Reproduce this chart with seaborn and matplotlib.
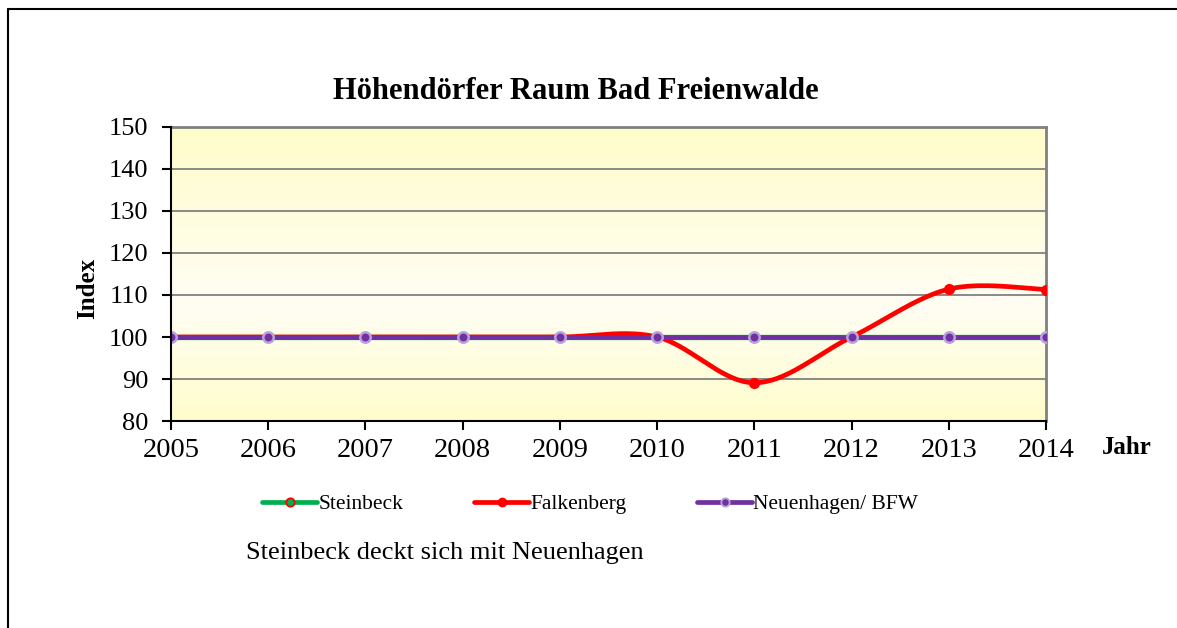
import numpy as np
import pandas as pd
import seaborn as sns
import matplotlib.pyplot as plt
from matplotlib.lines import Line2D
from matplotlib.colors import LinearSegmentedColormap

# Daten (Index, 2005 = 100)
jahre = [2005, 2006, 2007, 2008, 2009, 2010, 2011, 2012, 2013, 2014]
steinbeck = [100, 100, 100, 100, 100, 100, 100, 100, 100, 100]
falkenberg = [100, 100, 100, 100, 100, 100, 89.1, 100, 111.4, 111.3]
neuenhagen = [100, 100, 100, 100, 100, 100, 100, 100, 100, 100]
y_ticks = [80, 90, 100, 110, 120, 130, 140, 150]

sns.set_theme(style='white')
plt.rcParams['font.family'] = ['Liberation Serif', 'DejaVu Serif']
plt.rcParams['text.color'] = 'black'
plt.rcParams['xtick.color'] = 'black'
plt.rcParams['ytick.color'] = 'black'


def glatt(x, y, n=40):
    # Excel-artige geglaettete Linie (Catmull-Rom / Bezier)
    x = np.asarray(x, float)
    y = np.asarray(y, float)
    px = np.concatenate([[x[0]], x, [x[-1]]])
    py = np.concatenate([[y[0]], y, [y[-1]]])
    xs, ys = [], []
    t = np.linspace(0, 1, n)
    for i in range(1, len(px) - 2):
        p0 = np.array([px[i], py[i]])
        p3 = np.array([px[i + 1], py[i + 1]])
        p1 = p0 + (np.array([px[i + 1], py[i + 1]]) - np.array([px[i - 1], py[i - 1]])) / 6
        p2 = p3 - (np.array([px[i + 2], py[i + 2]]) - np.array([px[i], py[i]])) / 6
        b = ((1 - t) ** 3)[:, None] * p0 + (3 * (1 - t) ** 2 * t)[:, None] * p1 \
            + (3 * (1 - t) * t ** 2)[:, None] * p2 + (t ** 3)[:, None] * p3
        xs.extend(b[:, 0])
        ys.extend(b[:, 1])
    return np.array(xs), np.array(ys)


fig = plt.figure(figsize=(11.77, 6.28), dpi=100)
ax = fig.add_axes([0.1453, 0.3296, 0.7434, 0.4682])

# Hintergrund mit Farbverlauf
cmap = LinearSegmentedColormap.from_list('bg', ['#fffccb', '#fffef3', '#fffdcc'])
grad = np.concatenate([np.linspace(0, 0.5, 60), np.linspace(0.5, 1, 40)]).reshape(-1, 1)
ax.imshow(grad, cmap=cmap, aspect='auto', extent=[0, 1, 0, 1],
          transform=ax.transAxes, zorder=0, origin='upper')

gruen = '#00b050'
rot = '#ff0000'
lila = '#7030a0'

sns.lineplot(x=jahre, y=steinbeck, ax=ax, color=gruen, linewidth=3.8, zorder=3)
fx, fy = glatt(jahre, falkenberg)
sns.lineplot(x=fx, y=fy, ax=ax, color=rot, linewidth=3.4, sort=False, estimator=None, zorder=4)
ax.plot(jahre, falkenberg, 'o', color=rot, markersize=7, zorder=5)
sns.lineplot(x=jahre, y=neuenhagen, ax=ax, color=lila, linewidth=3.3, zorder=6)
ax.plot(jahre, neuenhagen, 'o', markerfacecolor=lila, markeredgecolor='#b9a3dc',
        markeredgewidth=1.8, markersize=7.5, zorder=7)

ax.set_xlim(2005, 2014)
ax.set_ylim(80, 150)
ax.set_xticks(jahre)
ax.set_yticks(y_ticks)
ax.tick_params(axis='both', colors='black', length=6.5, width=1.5, direction='out')
ax.tick_params(axis='y', pad=10, left=True, labelsize=19)
ax.tick_params(axis='x', pad=6, bottom=True, labelsize=20.5)
ax.yaxis.grid(True, color='#808080', linewidth=1.3)
ax.xaxis.grid(False)
ax.set_axisbelow(False)
for gl in ax.get_ygridlines():
    gl.set_zorder(1)
for s in ['left', 'bottom']:
    ax.spines[s].set_color('black')
    ax.spines[s].set_linewidth(1.5)
    ax.spines[s].set_zorder(8)
for s in ['top', 'right']:
    ax.spines[s].set_color('#808080')
    ax.spines[s].set_linewidth(2)
ax.set_xlabel('')
ax.set_ylabel('')

fig.text(0.489, 0.855, 'Höhendörfer Raum Bad Freienwalde', ha='center', va='center',
         fontsize=22, fontweight='bold')
fig.text(0.0748, 0.541, 'Index', rotation=90, ha='center', va='center',
         fontsize=18, fontweight='bold')
fig.text(0.9575, 0.288, 'Jahr', ha='center', va='center', fontsize=18, fontweight='bold')
fig.text(0.209, 0.119, 'Steinbeck deckt sich mit Neuenhagen', ha='left', va='center',
         fontsize=19)

handles = [
    Line2D([], [], color=gruen, linewidth=3.4, marker='o', markersize=6,
           markerfacecolor=gruen, markeredgecolor=rot, markeredgewidth=1.3),
    Line2D([], [], color=rot, linewidth=3.4, marker='o', markersize=6,
           markerfacecolor=rot, markeredgecolor=rot),
    Line2D([], [], color=lila, linewidth=3.4, marker='o', markersize=6,
           markerfacecolor=lila, markeredgecolor='#b9a3dc', markeredgewidth=1.3),
]
fig.legend(handles, ['Steinbeck', 'Falkenberg', 'Neuenhagen/ BFW'], ncol=3,
           loc='center left', bbox_to_anchor=(0.2155, 0.197), frameon=False,
           fontsize=15.5, handlelength=2.55, handletextpad=0.05, columnspacing=3.3,
           borderaxespad=0)

# Rahmen oben und links
fig.add_artist(Line2D([0.0068, 1.0], [0.985, 0.985], color='black', linewidth=1.5,
                      transform=fig.transFigure))
fig.add_artist(Line2D([0.0068, 0.0068], [0.0, 0.985], color='black', linewidth=1.5,
                      transform=fig.transFigure))

fig.savefig('out.png', dpi=100)
